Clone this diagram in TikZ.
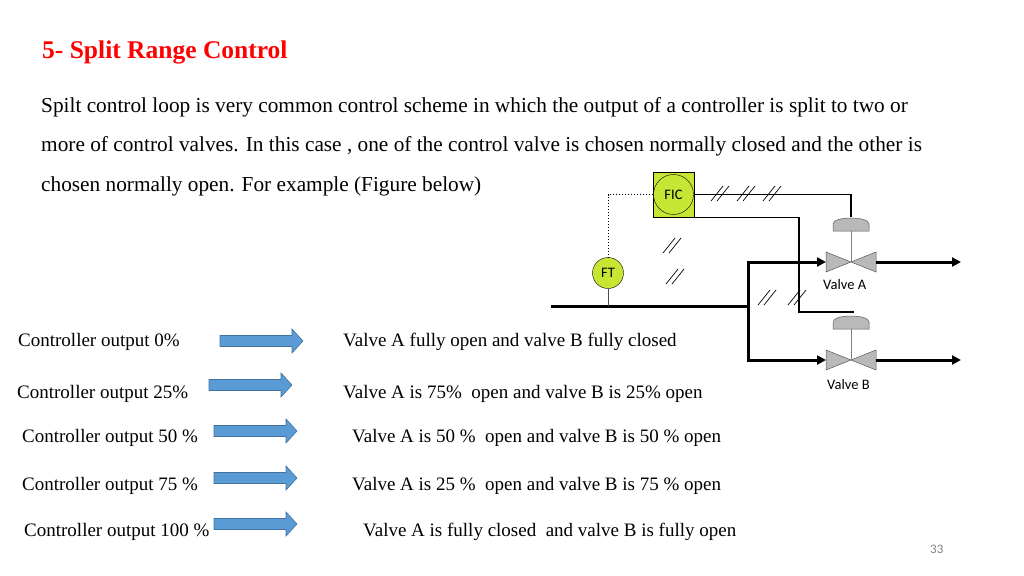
\documentclass[tikz,border=0pt]{standalone}
\usepackage{fontspec}
\setmainfont{Liberation Serif}
\newfontfamily\sansf{Carlito}
\usetikzlibrary{arrows.meta}
\definecolor{arrblue}{HTML}{5B9BD5}
\definecolor{arredge}{HTML}{41719C}
\definecolor{fic}{HTML}{C6E633}
\begin{document}
\begin{tikzpicture}[x=1pt,y=-1pt,
  body/.style={anchor=west,inner sep=0pt,font=\fontsize{21.3}{24}\selectfont},
  lbl/.style={anchor=west,inner sep=0pt,font=\fontsize{19}{22}\selectfont},
  pipe/.style={line width=3pt},
  sig/.style={line width=1.3pt},
  inst/.style={circle,draw,fill=fic,minimum size=#1,inner sep=0pt,font=\sansf\fontsize{14.5}{16}\selectfont},
  vtri/.style={draw=gray!70!black,fill=gray!55,line width=0.5pt},
  small/.style={font=\sansf\fontsize{14.5}{16}\selectfont,inner sep=0pt},
  hash/.pic={\draw[line width=0.7pt] (-9,8)--(3,-7) (-3,8)--(9,-7);}
]
\useasboundingbox (0,0) rectangle (1024,575);
\node[anchor=west,inner sep=0pt,text=red,font=\bfseries\fontsize{25.5}{28}\selectfont] (title) at (42,52) {5- Split Range Control};
\node[body] (p1) at (41,107) {Spilt control loop is very common control scheme in which the output of a controller is split to two or};
\node[body] (p2) at (41,146) {more of control valves. In this case , one of the control valve is chosen normally closed and the other is};
\node[body] (p3) at (41,186) {chosen normally open. For example (Figure below)};
% diagram
\node[draw,fill=fic,minimum width=41,minimum height=45,inner sep=0pt] (ficbox) at (673.5,194.5) {};
\node[inst=40] (fic) at (673.5,194.5) {FIC};
\node[inst=31] (ft) at (608,273) {FT};
\coordinate (pin) at (551,306);
\coordinate (tee) at (748,306);
\coordinate (ftp) at (608,306);
\draw[pipe] (pin) -- (tee);
\draw[line width=0.6pt,gray!60!black] (ft) -- (ftp);
\draw[line width=1pt,dotted] (fic.west) -| (ft.north);
% valves
\foreach \n/\y in {va/262,vb/360}{
  \coordinate (\n) at (851,\y);
  \draw[vtri] (826,\y-10) -- (876,\y+10) -- (876,\y-10) -- (826,\y+10) -- cycle;
  \draw[line width=0.8pt,gray] (851,\y) -- (851,\y-31);
  \draw[vtri] (833,\y-31) -- (833,\y-38) .. controls (833,\y-46) and (869,\y-46) .. (869,\y-38) -- (869,\y-31) -- cycle;
}
\draw[pipe,-{Triangle[length=9pt,width=9pt]}] (tee) |- (826,262);
\draw[pipe,-{Triangle[length=9pt,width=9pt]}] (tee) |- (826,360);
\draw[pipe,-{Triangle[length=9pt,width=9pt]}] (876,262) -- (961,262);
\draw[pipe,-{Triangle[length=9pt,width=9pt]}] (876,360) -- (961,360);
\draw[sig] (ficbox.east |- fic) -| (851,217);
\draw[sig] (ficbox.south) -| (799,312) -- (854,312);
\pic at (720,193) {hash}; \pic at (746,193) {hash}; \pic at (772,193) {hash};
\pic at (672,245) {hash}; \pic at (675,276) {hash};
\pic at (767,297) {hash}; \pic at (797,297) {hash};
\node[small] (la) at (823,285) [anchor=west] {Valve A};
\node[small] (lb) at (827,385) [anchor=west] {Valve B};
% rows
\foreach \i/\ax/\ay/\lx/\ly/\lt/\rx/\rt in {
  1/220/341/18/342/{Controller output 0\%}/343/{Valve A fully open and valve B fully closed},
  2/209/385/17/394/{Controller output 25\%}/343/{Valve A is 75\%\ \ open and valve B is 25\% open},
  3/214/431/22/438/{Controller output 50 \%}/352/{Valve A is 50 \%\ \ open and valve B is 50 \% open},
  4/214/478/22/486/{Controller output 75 \%}/352/{Valve A is 25 \%\ \ open and valve B is 75 \% open},
  5/214/524/24/532/{Controller output 100 \%}/363/{Valve A is fully closed\ \ and valve B is fully open}}{
  \node[lbl] (l\i) at (\lx,\ly) {\lt};
  \node[lbl] (r\i) at (\rx,\ly) {\rt};
  \draw[fill=arrblue,draw=arredge,line width=0.6pt] (\ax,\ay-5.5) -- (\ax+72,\ay-5.5) -- (\ax+72,\ay-12) -- (\ax+83,\ay) -- (\ax+72,\ay+12) -- (\ax+72,\ay+5.5) -- (\ax,\ay+5.5) -- cycle;
}
\node[anchor=west,inner sep=0pt,text=gray,font=\sansf\fontsize{13}{14}\selectfont] (pg) at (930,549) {33};
\end{tikzpicture}
\end{document}
